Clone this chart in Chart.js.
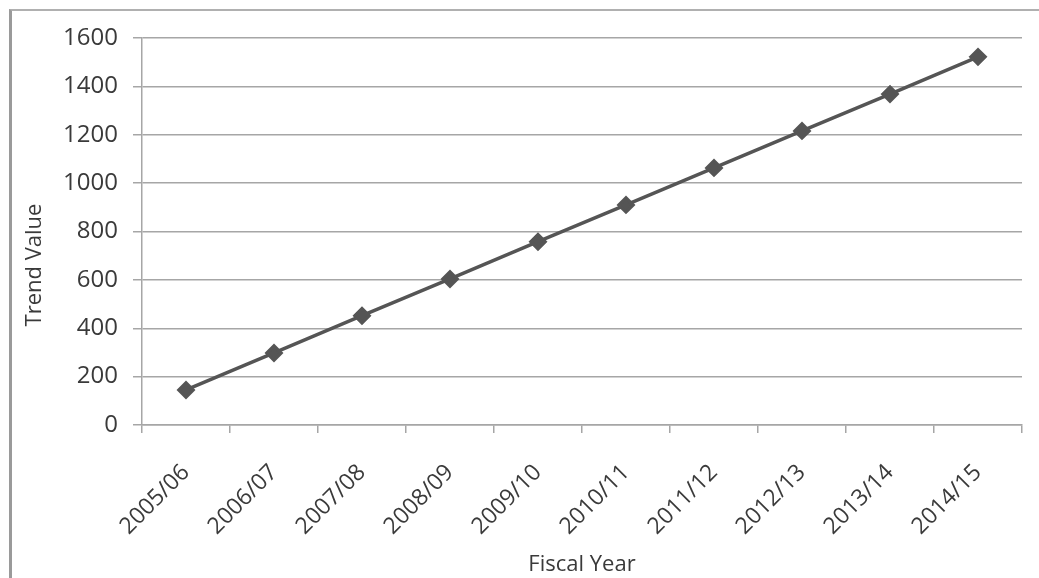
<!DOCTYPE html>
<html lang="en">
<head>
    <meta charset="UTF-8">
    <title>Trend Value by Fiscal Year</title>
    <style>
        body {
            margin: 0;
            padding: 0;
            background-color: #fff;
        }

        .frame {
            position: absolute;
            left: 9px;
            top: 9px;
            width: 1027px;
            height: 575px;
            border-left: 3px solid #9a9a9a;
            border-top: 2px solid #b0b0b0;
            border-right: 1px solid #e4e4e4;
        }

        .chart-box {
            position: absolute;
            left: 0;
            top: 0;
            width: 1039px;
            height: 578px;
        }
    </style>
</head>
<body>
<div class="frame"></div>
<div class="chart-box">
    <canvas id="trendChart"></canvas>
</div>
<script src="https://cdn.jsdelivr.net/npm/chart.js"></script>
<script>
    const fiscalYears = ['2005/06', '2006/07', '2007/08', '2008/09', '2009/10',
        '2010/11', '2011/12', '2012/13', '2013/14', '2014/15'];
    const trendValues = [145, 298, 452, 604, 758, 910, 1063, 1216, 1368, 1522];
    const yTicks = [0, 200, 400, 600, 800, 1000, 1200, 1400, 1600];

    const textColor = '#3a3a3a';
    const lineColor = '#555555';
    const gridColor = '#a6a6a6';

    // vertical axis caption, placed a little below the middle of the plot
    const yCaption = {
        id: 'yCaption',
        afterDraw(chart) {
            const ctx = chart.ctx;
            ctx.save();
            ctx.translate(35, 265);
            ctx.rotate(-Math.PI / 2);
            ctx.fillStyle = textColor;
            ctx.font = '22px "Open Sans"';
            ctx.textAlign = 'center';
            ctx.textBaseline = 'middle';
            ctx.fillText('Trend Value', 0, 0);
            ctx.restore();
        }
    };

    new Chart(document.getElementById('trendChart').getContext('2d'), {
        type: 'line',
        data: {
            labels: fiscalYears,
            datasets: [{
                label: 'Trend Value',
                data: trendValues,
                borderColor: lineColor,
                backgroundColor: lineColor,
                borderWidth: 3.5,
                pointStyle: 'rectRot',
                pointRadius: 7,
                pointBackgroundColor: lineColor,
                pointBorderColor: lineColor,
                tension: 0
            }]
        },
        options: {
            responsive: true,
            maintainAspectRatio: false,
            animation: false,
            layout: {
                padding: {left: 22, top: 38, right: 17, bottom: 0}
            },
            plugins: {
                legend: {display: false},
                tooltip: {enabled: false}
            },
            scales: {
                x: {
                    type: 'category',
                    offset: true,
                    grid: {
                        offset: true,
                        drawOnChartArea: false,
                        tickLength: 8,
                        color: gridColor,
                        lineWidth: 1.5
                    },
                    border: {color: gridColor, width: 1.5},
                    ticks: {
                        color: textColor,
                        font: {family: 'Open Sans', size: 23},
                        minRotation: 45,
                        maxRotation: 45,
                        padding: 26
                    },
                    title: {
                        display: true,
                        text: 'Fiscal Year',
                        color: textColor,
                        font: {family: 'Open Sans', size: 22},
                        padding: {top: 0, bottom: 0}
                    },
                    afterFit: function (scale) {
                        scale.height = 153;
                    }
                },
                y: {
                    min: 0,
                    max: 1600,
                    afterBuildTicks: function (scale) {
                        scale.ticks = yTicks.map(v => ({value: v}));
                    },
                    grid: {
                        color: gridColor,
                        lineWidth: 1.5,
                        tickLength: 9
                    },
                    border: {color: gridColor, width: 1.5},
                    ticks: {
                        color: textColor,
                        font: {family: 'Open Sans', size: 24},
                        padding: 15,
                        callback: value => String(value)
                    },
                    afterFit: function (scale) {
                        scale.width = 120;
                    }
                }
            }
        },
        plugins: [yCaption]
    });
</script>
</body>
</html>
